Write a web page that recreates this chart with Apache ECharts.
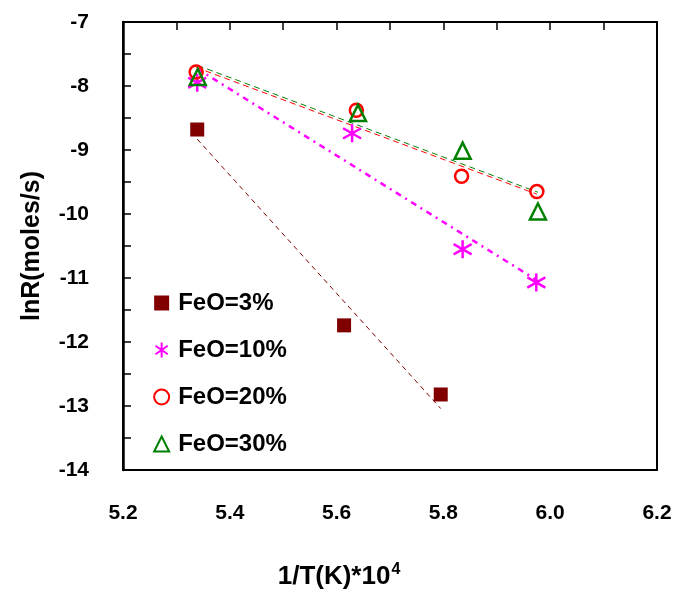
<!DOCTYPE html>
<html>
<head>
<meta charset="utf-8">
<script src="https://cdn.jsdelivr.net/npm/echarts@6/dist/echarts.min.js"></script>
<style>
    html, body { margin: 0; padding: 0; background: #fff; }
    #chart { width: 680px; height: 595px; }
</style>
</head>
<body>
<div id="chart"></div>
<script>
// 数据点 (1/T*10^4, lnR)
var seriesNames = ['FeO=3%', 'FeO=10%', 'FeO=20%', 'FeO=30%'];
var feo3X = [5.339, 5.614, 5.795];
var feo3Y = [-8.68, -11.74, -12.82];
var feo10X = [5.339, 5.629, 5.836, 5.974];
var feo10Y = [-7.95, -8.74, -10.55, -11.07];
var feo20X = [5.337, 5.637, 5.834, 5.975];
var feo20Y = [-7.78, -8.38, -9.41, -9.65];
var feo30X = [5.340, 5.640, 5.836, 5.977];
var feo30Y = [-7.86, -8.42, -9.01, -9.96];

// 趋势线端点
var fit3 = [[5.339, -8.83], [5.795, -13.04]];
var fit10 = [[5.339, -7.73], [5.974, -11.03]];
var fit20 = [[5.337, -7.71], [5.975, -9.69]];
var fit30 = [[5.340, -7.68], [5.977, -9.66]];

var xTicks = [5.2, 5.4, 5.6, 5.8, 6.0, 6.2];
var yTicks = [-7, -8, -9, -10, -11, -12, -13, -14];

var starPath = 'path://M0,-10 L0,10 M-8.2,-5.7 L8.2,5.7 M-8.2,5.7 L8.2,-5.7';
var fontName = 'Liberation Sans, Arial';

function pairs(xs, ys) {
    var out = [];
    for (var i = 0; i < xs.length; i++) {
        out.push([xs[i], ys[i]]);
    }
    return out;
}

function fitLine(name, data, color, type, width) {
    return {
        name: name + ' fit',
        type: 'line',
        data: data,
        showSymbol: false,
        silent: true,
        z: 1,
        lineStyle: { color: color, width: width, type: type }
    };
}

var labelFont = { color: '#000', fontWeight: 'bold', fontSize: 21, fontFamily: fontName };

var myChart = echarts.init(document.getElementById('chart'));
var option = {
    animation: false,
    grid: {
        left: 123, right: 23, top: 22, bottom: 124,
        show: true, borderColor: '#000', borderWidth: 2
    },
    legend: {
        orient: 'vertical',
        left: 148,
        top: 285,
        itemGap: 21,
        itemWidth: 15,
        itemHeight: 15,
        textStyle: { color: '#000', fontWeight: 'bold', fontSize: 24, fontFamily: fontName, padding: [0, 0, 0, 4], lineHeight: 26 },
        data: [
            { name: seriesNames[0], icon: 'rect', itemStyle: { color: '#800000' } },
            { name: seriesNames[1], icon: starPath, itemStyle: { color: 'none', borderColor: '#ff00ff', borderWidth: 2 } },
            { name: seriesNames[2], icon: 'circle', itemStyle: { color: '#fff', borderColor: '#ff0000', borderWidth: 2 } },
            { name: seriesNames[3], icon: 'triangle', itemStyle: { color: '#fff', borderColor: '#008000', borderWidth: 2 } }
        ]
    },
    xAxis: [{
        type: 'value',
        min: 5.2, max: 6.2, interval: 0.2,
        position: 'bottom',
        name: '{a|1/T(K)*10}{s|4}',
        nameLocation: 'middle',
        nameGap: 92,
        nameTextStyle: {
            padding: [0, 102, 0, 0],
            rich: {
                a: { color: '#000', fontWeight: 'bold', fontSize: 26, fontFamily: fontName },
                s: { color: '#000', fontWeight: 'bold', fontSize: 16, fontFamily: fontName, verticalAlign: 'top', padding: [0, 0, 14, 1] }
            }
        },
        axisLine: { show: true, lineStyle: { color: '#000', width: 2 } },
        axisTick: { show: false },
        splitLine: { show: false },
        axisLabel: Object.assign({
            margin: 33,
            formatter: function(v) {
                return xTicks.indexOf(Math.round(v * 10) / 10) >= 0 ? v.toFixed(1) : '';
            }
        }, labelFont)
    }, {
        type: 'value',
        min: 5.2, max: 6.2, interval: 0.1,
        position: 'top',
        axisLine: { show: true, lineStyle: { color: '#000', width: 2 } },
        axisTick: { show: true, inside: true, length: 8, lineStyle: { color: '#000', width: 1.5 } },
        axisLabel: { show: false },
        splitLine: { show: false }
    }],
    yAxis: {
        type: 'value',
        min: -14, max: -7, interval: 0.5,
        name: 'lnR(moles/s)',
        nameLocation: 'middle',
        nameGap: 78,
        nameTextStyle: { color: '#000', fontWeight: 'bold', fontSize: 25, fontFamily: fontName },
        axisLine: { show: true, lineStyle: { color: '#000', width: 2.5 } },
        axisTick: { show: true, inside: true, length: 8, lineStyle: { color: '#000', width: 1.5 } },
        splitLine: { show: false },
        axisLabel: Object.assign({
            margin: 34,
            formatter: function(v) {
                return yTicks.indexOf(v) >= 0 ? String(v) : '';
            }
        }, labelFont)
    },
    series: [
        fitLine(seriesNames[0], fit3, '#800000', [5, 4], 1),
        fitLine(seriesNames[1], fit10, '#ff00ff', [6, 5, 2, 5], 2.5),
        fitLine(seriesNames[2], fit20, '#ff0000', [6, 4], 1),
        fitLine(seriesNames[3], fit30, '#008000', [6, 4], 1),
        {
            name: seriesNames[0], type: 'scatter', z: 3,
            data: pairs(feo3X, feo3Y),
            symbol: 'rect', symbolSize: 14,
            itemStyle: { color: '#800000', opacity: 1 }
        },
        {
            name: seriesNames[1], type: 'scatter', z: 3,
            data: pairs(feo10X, feo10Y),
            symbol: starPath, symbolSize: 18,
            itemStyle: { color: 'none', borderColor: '#ff00ff', borderWidth: 2.5, opacity: 1 }
        },
        {
            name: seriesNames[2], type: 'scatter', z: 4,
            data: pairs(feo20X, feo20Y),
            symbol: 'circle', symbolSize: 13,
            itemStyle: { color: 'rgba(255,255,255,0)', borderColor: '#ff0000', borderWidth: 2.5, opacity: 1 }
        },
        {
            name: seriesNames[3], type: 'scatter', z: 5,
            data: pairs(feo30X, feo30Y),
            symbol: 'triangle', symbolSize: 16,
            itemStyle: { color: 'rgba(255,255,255,0)', borderColor: '#008000', borderWidth: 2.5, opacity: 1 }
        }
    ]
};
myChart.setOption(option);
window.addEventListener('resize', function() {
    myChart.resize();
});
</script>
</body>
</html>
